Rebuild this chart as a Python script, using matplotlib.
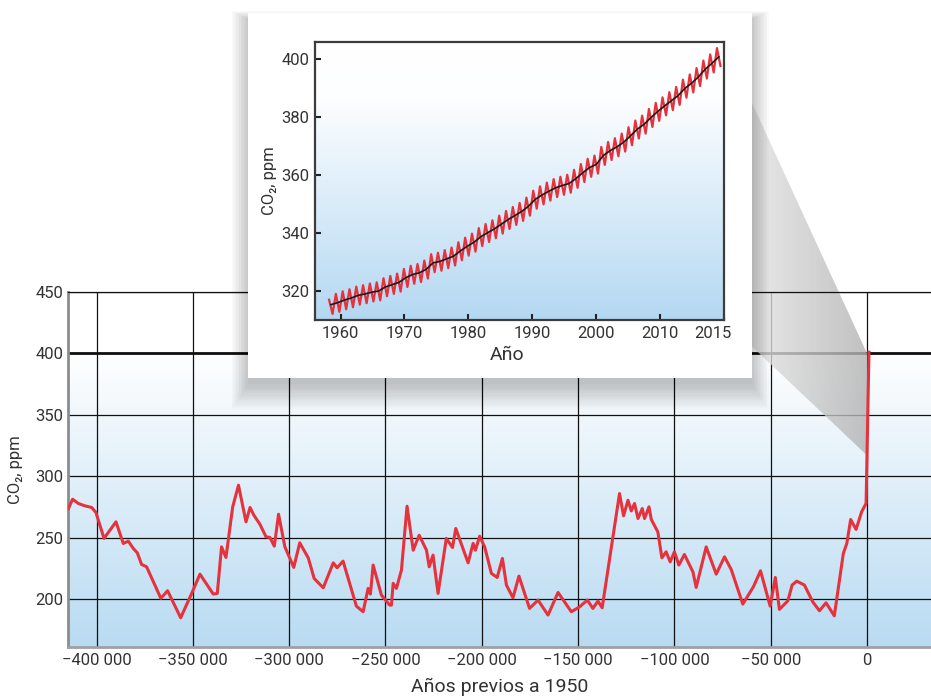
import numpy as np
import matplotlib
matplotlib.use('Agg')
import matplotlib.pyplot as plt
from matplotlib.colors import LinearSegmentedColormap
from matplotlib.patches import Rectangle, Polygon
from matplotlib.transforms import Affine2D, ScaledTranslation

plt.rcParams['font.family'] = ['Liberation Sans Narrow', 'Roboto', 'DejaVu Sans']

# ice core record (years before 1950, ppm)
ice_years = [-414600, -412400, -409400, -406000, -402500, -400300, -396100, -389900,
             -386100, -383500, -380900, -378800, -376600, -374000, -370500, -366600,
             -363100, -356300, -350600, -346300, -339400, -337300, -335100, -332800,
             -329300, -326300, -322400, -320300, -318300, -315200, -312000, -310000,
             -307700, -305500, -302200, -297600, -294500, -290100, -287000, -282300,
             -277100, -275100, -272000, -265100, -261600, -259000, -257800, -256400,
             -252100, -247800, -246900, -246000, -244300, -241700, -238800, -235600,
             -232500, -228700, -227300, -225300, -222700, -218400, -215200, -213500,
             -207100, -204500, -203300, -201100, -198500, -195000, -192000, -189300,
             -187200, -183800, -180700, -175200, -170800, -165600, -160400, -153500,
             -149200, -145200, -142300, -139700, -137500, -131900, -128500, -126400,
             -124100, -122400, -120700, -118900, -116700, -115500, -113200, -112000,
             -108600, -106500, -104300, -102200, -100000, -97700, -94800, -90400,
             -88700, -83500, -78300, -74000, -70500, -64500, -59000, -55300,
             -50300, -47600, -45500, -41100, -38900, -36500, -32500, -28200,
             -24700, -21300, -17000, -12300, -10500, -8500, -5700, -2800,
             -500, 1000]
ice_ppm = [273.7, 281.3, 277.8, 275.9, 274.6, 270.5, 249.4, 262.9,
           245.3, 247.2, 241.2, 237.6, 228.2, 226.3, 214.1, 200.6,
           206.8, 184.8, 204.6, 220.3, 204.1, 204.6, 242.5, 233.9,
           275.1, 292.7, 262.9, 274.6, 268.3, 261.0, 250.7, 250.2,
           243.1, 269.1, 242.5, 225.8, 245.8, 233.6, 216.8, 209.2,
           229.5, 225.5, 230.9, 194.3, 189.7, 208.7, 204.1, 227.7,
           203.3, 195.1, 195.1, 212.8, 208.7, 223.6, 275.6, 239.8,
           252.0, 239.8, 226.3, 235.8, 204.6, 249.4, 242.0, 257.5,
           229.5, 245.3, 239.8, 251.2, 242.5, 220.9, 217.6, 233.1,
           211.4, 201.1, 218.7, 192.4, 199.2, 187.0, 205.4, 189.7,
           193.7, 199.2, 192.4, 198.4, 192.9, 250.7, 285.9, 267.8,
           280.5, 271.8, 277.8, 265.6, 273.7, 265.6, 275.1, 264.8,
           254.7, 233.6, 238.5, 230.3, 238.5, 227.7, 236.3, 222.2,
           209.5, 242.5, 220.3, 234.4, 224.1, 195.9, 210.0, 223.0,
           194.3, 217.6, 191.6, 198.6, 211.4, 214.6, 211.4, 197.8,
           190.5, 197.0, 186.4, 237.2, 245.3, 264.8, 256.7, 271.1,
           277.9, 401.0]

main_xticks = [-400000, -350000, -300000, -250000, -200000, -150000, -100000, -50000, 0]
main_xlabels = ['−400 000', '−350 000', '−300 000', '−250 000', '−200 000',
                '−150 000', '−100 000', '−50 000', '0']
main_yticks = [200, 250, 300, 350, 400, 450]

# instrumental record, one value per seasonal cycle
ml_trend = [315.3, 316.0, 316.9, 317.6, 318.5, 319.0, 319.6, 320.0, 321.4, 322.2,
            323.0, 324.6, 325.7, 326.3, 327.5, 329.7, 330.2, 331.1, 332.0, 333.8,
            335.4, 336.8, 338.7, 340.1, 341.4, 343.0, 344.6, 346.0, 347.4, 349.2,
            351.6, 353.1, 354.4, 355.6, 356.4, 357.1, 358.8, 360.8, 362.6, 363.7,
            366.7, 368.4, 369.7, 371.3, 373.5, 375.8, 377.5, 379.8, 381.9, 383.8,
            385.6, 387.4, 389.9, 391.7, 393.9, 396.5, 398.6, 400.8]
ml_high = [317.0, 319.0, 319.9, 320.6, 321.5, 322.0, 322.6, 323.0, 324.4, 325.2,
           326.0, 327.6, 328.7, 329.3, 330.5, 332.7, 333.2, 334.1, 335.0, 336.8,
           338.4, 339.8, 341.7, 343.1, 344.4, 346.0, 347.6, 349.0, 350.4, 352.2,
           354.6, 356.1, 357.4, 358.6, 359.4, 360.1, 361.8, 363.8, 365.6, 366.7,
           369.7, 371.4, 372.7, 374.3, 376.5, 378.8, 380.5, 382.8, 384.9, 386.8,
           388.6, 390.4, 392.9, 394.7, 396.9, 399.5, 401.6, 403.8]
ml_low = [312.1, 312.8, 313.7, 314.4, 315.3, 315.8, 316.4, 316.8, 318.2, 319.0,
          319.8, 321.4, 322.5, 323.1, 324.3, 326.5, 327.0, 327.9, 328.8, 330.6,
          332.2, 333.6, 335.5, 336.9, 338.2, 339.8, 341.4, 342.8, 344.2, 346.0,
          348.4, 349.9, 351.2, 352.4, 353.2, 353.9, 355.6, 357.6, 359.4, 360.5,
          363.5, 365.2, 366.5, 368.1, 370.3, 372.6, 374.3, 376.6, 378.7, 380.6,
          382.4, 384.2, 386.7, 388.5, 390.7, 393.3, 395.4, 397.6]
inset_xticks = [1960, 1970, 1980, 1990, 2000, 2010, 2020]
inset_xlabels = ['1960', '1970', '1980', '1990', '2000', '2010', '2015']
inset_yticks = [320, 340, 360, 380, 400]

RED = '#e5323c'
TXT = '#333333'

W, H = 931, 700
fig = plt.figure(figsize=(W / 100, H / 100), dpi=100)
px = Affine2D().scale(1 / W, -1 / H).translate(0, 1) + fig.transFigure

# ---- main chart
ax = fig.add_axes([68 / W, 1 - 647 / H, 863 / W, 355 / H], zorder=1)
bg = LinearSegmentedColormap.from_list('bg', [(0, '#ffffff'), (0.17, '#ffffff'), (1, '#b9dbf2')])
ax.imshow(np.linspace(0, 1, 256)[:, None], cmap=bg, extent=[0, 1, 0, 1],
          transform=ax.transAxes, aspect='auto', zorder=0)
xlim, ylim = (-414800, 33200), (161, 450)
ax.set_xlim(xlim)
ax.set_ylim(ylim)
ax.set_xticks(main_xticks, main_xlabels)
ax.set_yticks(main_yticks)
ax.set_axisbelow(True)
ax.grid(True, color='#111111', lw=0.9)
ax.axhline(400, color='#111111', lw=2.0, zorder=1)
ax.tick_params(length=0, labelsize=12, labelcolor=TXT)
ax.tick_params(axis='x', pad=4)
ax.tick_params(axis='y', pad=3.5)
ax.spines['right'].set_visible(False)
ax.spines['top'].set_color('#111111')
ax.spines['top'].set_linewidth(0.9)
ax.spines['left'].set_color('#8c8c8c')
ax.spines['left'].set_linewidth(2)
ax.spines['bottom'].set_color('#a0a0a0')
ax.spines['bottom'].set_linewidth(2)
ax.plot(ice_years, ice_ppm, color=RED, lw=2.2, zorder=3, solid_joinstyle='round')
ax.set_xlabel('Años previos a 1950', fontsize=14, color=TXT)
ax.xaxis.set_label_coords(0.5, -0.087)
ax.set_ylabel('CO₂, ppm', fontsize=12, color=TXT)
ax.yaxis.set_label_coords(-0.052, 0.5)

# ---- inset box with a soft drop shadow
box = (248, 13, 504, 365)
for k in range(12):
    g = 1.5 * k
    dy = 6 + 0.8 * k
    fig.add_artist(Rectangle((box[0] - g, box[1] - g + dy), box[2] + 2 * g, box[3] + 2 * g,
                             transform=px, facecolor='black', edgecolor='none',
                             alpha=0.02, zorder=2))
fig.add_artist(Rectangle(box[:2], box[2], box[3], transform=px,
                         facecolor='white', edgecolor='none', zorder=3))

ins = fig.add_axes([315 / W, 1 - 320 / H, 409 / W, 278 / H], zorder=4)
ibg = LinearSegmentedColormap.from_list('ibg', [(0, '#ffffff'), (0.2, '#fdfeff'), (1, '#b4d8f2')])
ins.imshow(np.linspace(0, 1, 256)[:, None], cmap=ibg, extent=[0, 1, 0, 1],
           transform=ins.transAxes, aspect='auto', zorder=0)
cycle = np.linspace(1958.2, 2018.9, len(ml_trend))
red_x = np.ravel(np.column_stack([cycle, cycle + 0.55]))
red_y = np.ravel(np.column_stack([ml_high, ml_low]))
ins.plot(red_x, red_y, color=RED, lw=1.6, zorder=2)
ins.plot(cycle + 0.3, ml_trend, color='#1a1a1a', lw=1.2, zorder=3)
ins.set_xlim(1956.0, 2020.0)
ins.set_ylim(310, 405.9)
ins.set_xticks(inset_xticks, inset_xlabels)
ins.set_yticks(inset_yticks)
ins.tick_params(direction='in', length=4, width=1.5, color='#222222',
                labelsize=12, labelcolor=TXT, pad=4)
for s in ins.spines.values():
    s.set_color('#3c3c3c')
    s.set_linewidth(1.6)
last = ins.get_xticklabels()[-1]
last.set_transform(last.get_transform() + ScaledTranslation(-11 / 100, 0, fig.dpi_scale_trans))
ins.set_xlabel('Año', fontsize=14, color=TXT)
ins.xaxis.set_label_coords(0.469, -0.094)
ins.set_ylabel('CO₂, ppm', fontsize=12, color=TXT)
ins.yaxis.set_label_coords(-0.093, 0.5)

# ---- projection wedge from inset to the present-day point
to_fig = fig.transFigure.inverted()
pts = to_fig.transform([ins.transAxes.transform((1, 1)), ax.transData.transform((0, 400)),
                        ax.transData.transform((0, 317)), ins.transAxes.transform((1, 0))])
wedge = Polygon(pts, closed=True, transform=fig.transFigure)
wcmap = LinearSegmentedColormap.from_list('w', ['#efefef', '#b2b2b2'])
im = ax.imshow(np.linspace(0, 1, 256)[None, :], cmap=wcmap, aspect='auto',
               extent=[pts[:, 0].min(), pts[:, 0].max(), pts[:, 1].min(), pts[:, 1].max()],
               transform=fig.transFigure, clip_path=wedge, alpha=0.8, zorder=2)
im.set_clip_box(fig.bbox)
ax.set_xlim(xlim)
ax.set_ylim(ylim)

fig.savefig('out.png', dpi=100)
